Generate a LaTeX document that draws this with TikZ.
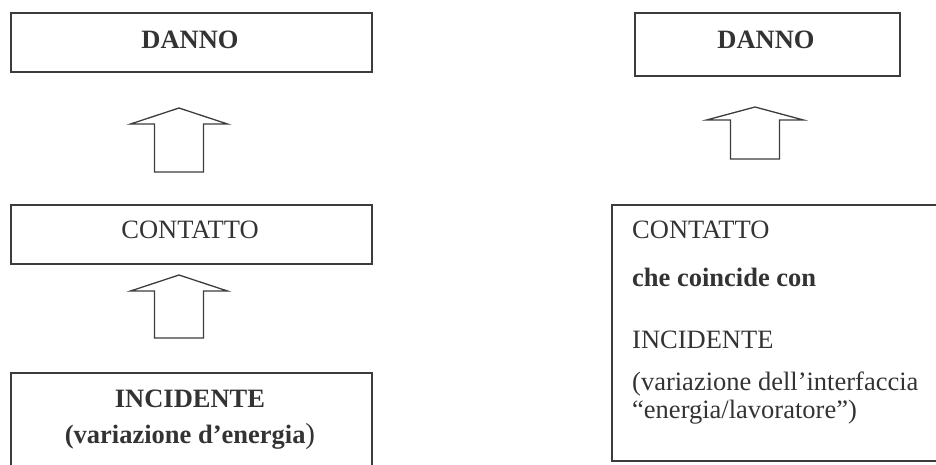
\documentclass[tikz,border=0pt]{standalone}
\usepackage{fontspec}
\setmainfont{Liberation Serif}
\definecolor{ink}{HTML}{333333}
\definecolor{frame}{HTML}{3C3C3C}

\tikzset{
  pics/upblock/.style 2 args={code={
    \draw[upshape] (-24.5,#1) -- (-24.5,0) -- (-48.5,0) -- (0,-#2)
      -- (48.5,0) -- (24.5,0) -- (24.5,#1) -- cycle;
  }}
}

\begin{document}
\begin{tikzpicture}[x=1pt, y=-1pt,
    box/.style={draw=frame, line width=1.5pt, rectangle, inner sep=0pt, anchor=north west},
    txt/.style={text=ink, inner sep=0pt, anchor=base, font=\fontsize{26.5}{32}\selectfont},
    ltxt/.style={txt, anchor=base west},
    upshape/.style={draw=frame, line width=1.3pt, line join=miter}]
  \useasboundingbox (0,0) rectangle (936,464);
  \clip (0,0) rectangle (936,464);

  % left column
  \node[box, minimum width=361, minimum height=59] (danno) at (10,12) {};
  \node[box, minimum width=361, minimum height=59] (contatto) at (10,204) {};
  \node[box, minimum width=361, minimum height=120] (incidente) at (10,372) {};
  \node[txt] (tDanno) at (190,48) {\bfseries DANNO};
  \node[txt] (tContatto) at (190,238) {CONTATTO};
  \node[txt] (tIncidente) at (190,407) {\bfseries INCIDENTE};
  \node[txt] (tVariazione) at (190,443) {\textbf{(variazione d’energia}{\fontsize{29}{32}\selectfont)}};
  \pic (upA) at (179,124) {upblock={48}{16}};
  \pic (upB) at (179,291) {upblock={47}{16}};

  % right column
  \begin{scope}
    \node[box, minimum width=265, minimum height=63] (dannoR) at (634,12) {};
    \node[box, minimum width=360, minimum height=256] (contattoR) at (611,204) {};
    \node[txt] (tDannoR) at (766,48) {\bfseries DANNO};
    \node[ltxt] (rContatto) at (632,238) {CONTATTO};
    \node[ltxt] (rCoincide) at (632,286) {\bfseries che coincide con};
    \node[ltxt] (rIncidente) at (632,348) {INCIDENTE};
    \node[ltxt] (rVar) at (632,390) {(variazione dell’interfaccia};
    \node[ltxt] (rVarB) at (632,418) {“energia/lavoratore”)};
    \pic (upR) at (755,120) {upblock={39}{13}};
  \end{scope}
\end{tikzpicture}
\end{document}
